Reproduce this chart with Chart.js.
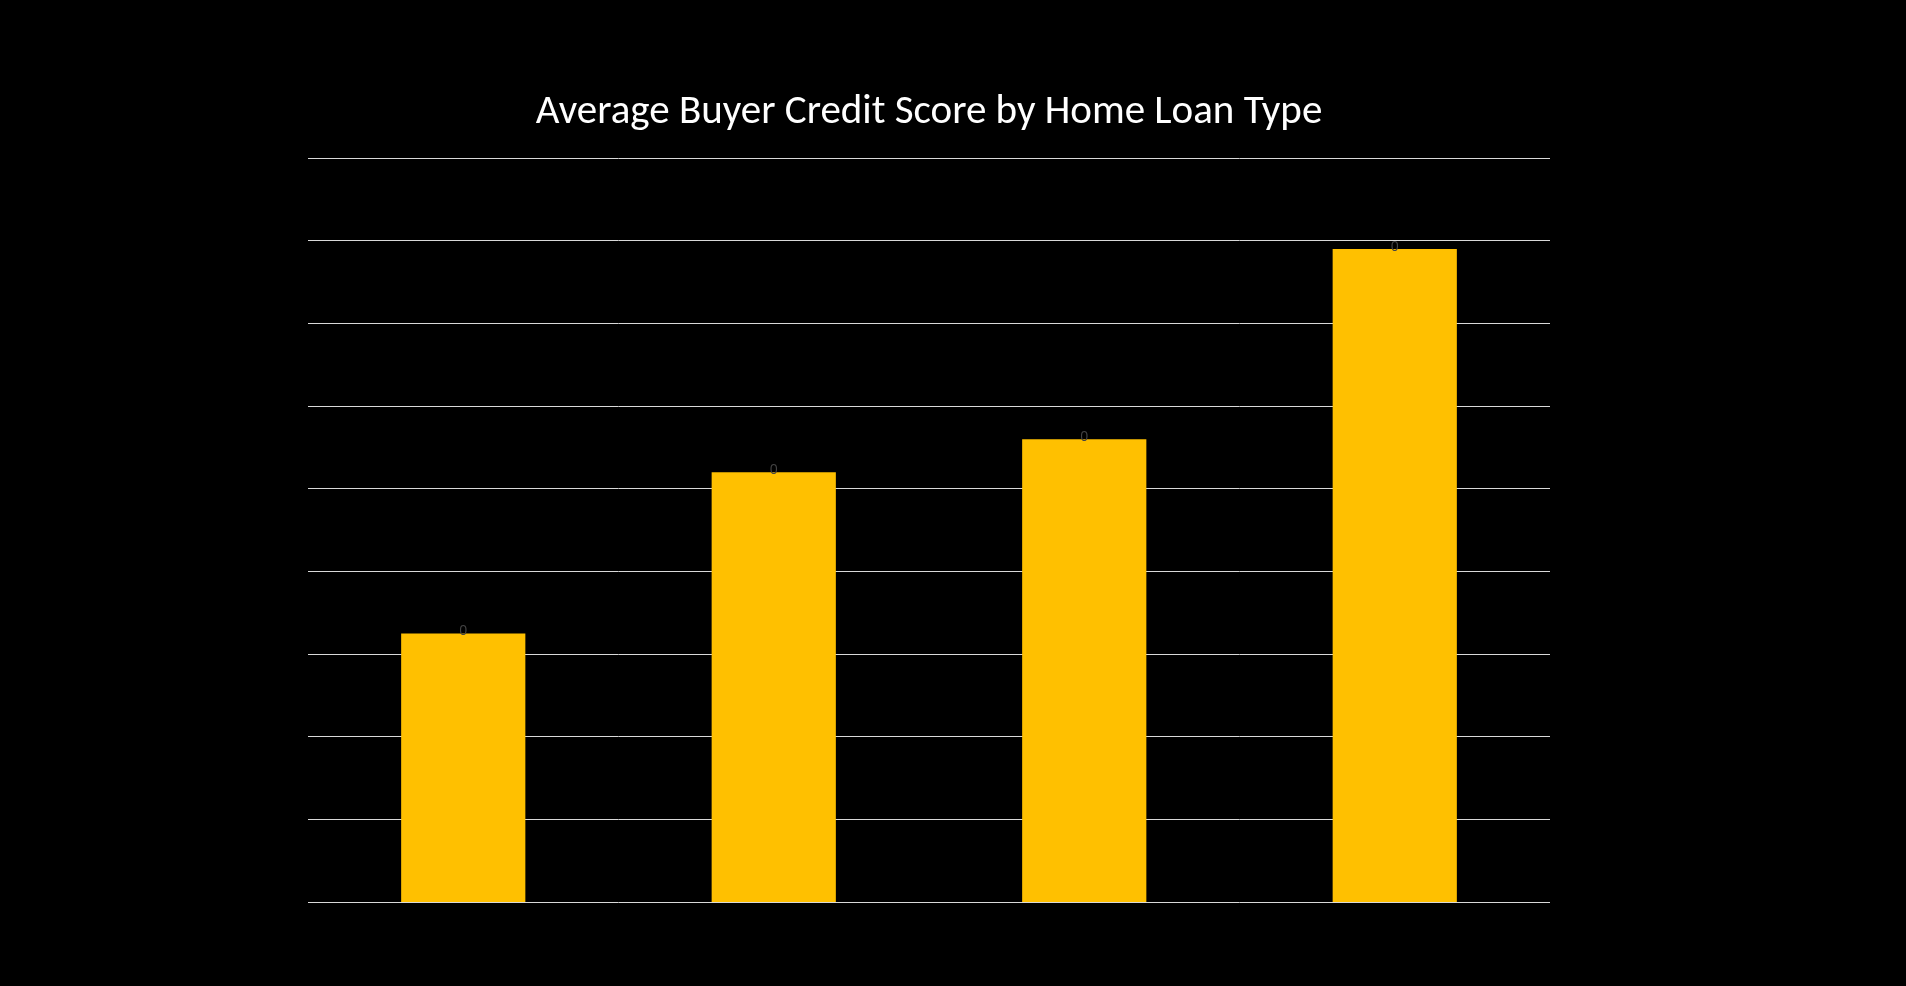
<!DOCTYPE html>
<html><head><meta charset="utf-8">
<script src="https://cdn.jsdelivr.net/npm/chart.js@4"></script>
<style>html,body{margin:0;padding:0;background:#000;overflow:hidden}</style>
</head><body>
<canvas id="c" width="1906" height="986"></canvas>
<script>
const categories = ["FHA", "VA", "USDA", "Conventional"];
const scores = [645, 684, 692, 738];
const topLabels = ["0", "0", "0", "0"];

const labelPlugin = {
  id: 'labels',
  afterDatasetsDraw(chart) {
    const ctx = chart.ctx;
    const meta = chart.getDatasetMeta(0);
    meta.data.forEach((bar, i) => {
      ctx.save();
      ctx.textAlign = 'center';
      ctx.textBaseline = 'middle';
      ctx.fillStyle = '#ffffff';
      ctx.font = '32px Calibri, Carlito, "Open Sans", sans-serif';
      ctx.fillText(String(scores[i]), bar.x, (bar.y + bar.base) / 2);
      ctx.fillStyle = '#444444';
      ctx.font = '14px "Open Sans", sans-serif';
      ctx.fillText(topLabels[i], bar.x, bar.y - 2);
      ctx.restore();
    });
  }
};

new Chart(document.getElementById('c'), {
  type: 'bar',
  data: { labels: categories, datasets: [{ data: scores, backgroundColor: '#FFC000', barPercentage: 0.8, categoryPercentage: 0.5 }] },
  options: {
    responsive: false, animation: false, devicePixelRatio: 1,
    layout: { padding: { left: 308, right: 356, bottom: 84, top: 0 } },
    plugins: {
      legend: { display: false }, tooltip: { enabled: false },
      title: { display: true, text: 'Average Buyer Credit Score by Home Loan Type', color: '#ffffff',
        font: { size: 41, family: 'Calibri, Carlito, "Open Sans", sans-serif', weight: 'normal', lineHeight: 1.2 },
        padding: { top: 88, bottom: 21 } }
    },
    scales: {
      x: { display: false },
      y: { min: 580, max: 760, ticks: { display: false, stepSize: 20 },
        grid: { color: '#d9d9d9', lineWidth: 1, drawTicks: false }, border: { display: false } }
    }
  },
  plugins: [labelPlugin]
});
</script>
</body></html>
